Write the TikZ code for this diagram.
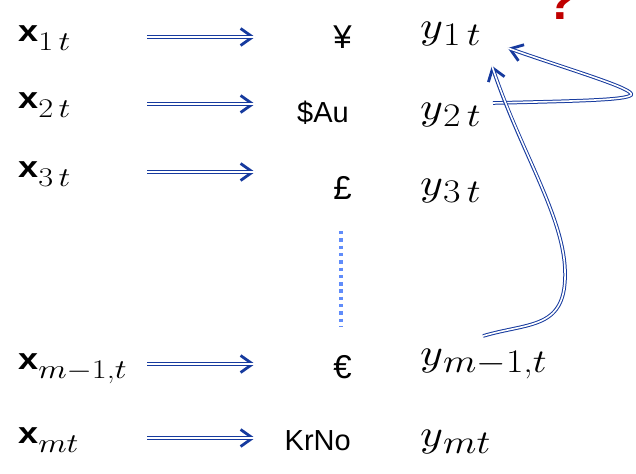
\documentclass[tikz,border=0pt]{standalone}
\usepackage{fontspec}
\setsansfont{Liberation Sans}
\usetikzlibrary{arrows.meta}
% math fonts at any size
\DeclareFontShape{OML}{cmm}{m}{it}{<->cmmi10}{}
\DeclareFontShape{OMS}{cmsy}{m}{n}{<->cmsy10}{}

\definecolor{arrblue}{RGB}{22,58,158}
\definecolor{dotblue}{RGB}{96,140,250}
\definecolor{qred}{RGB}{192,0,0}

% subscripts, set large and lowered by hand
\newcommand{\xsub}[1]{\raisebox{-9pt}{\normalfont\fontsize{27}{30}\selectfont #1}}
\newcommand{\ysub}[1]{\raisebox{-7pt}{\normalfont\fontsize{33}{36}\selectfont #1}}

\begin{document}
\begin{tikzpicture}[x=1pt,y=-1pt]
  \tikzset{
    xlab/.style={anchor=base west,inner sep=0pt,xscale=1.2,font=\sffamily\bfseries\fontsize{30}{34}\selectfont},
    ylab/.style={anchor=base west,inner sep=0pt,xscale=1.15,font=\fontsize{38}{42}\selectfont},
    cur/.style={anchor=base east,inner sep=0pt,font=\sffamily\fontsize{29}{32}\selectfont},
    sym/.style={cur,font=\sffamily\fontsize{33}{36}\selectfont},
    dbl/.style={draw=white,line width=1.6pt,shorten >=6pt,
      preaction={draw=arrblue,line width=3.6pt,
        -{Straight Barb[length=12pt,width=17pt,line width=2.8pt]}}},
  }
  \useasboundingbox (0,0) rectangle (636,473);
  % left column
  \node[xlab] (x1)  at (18,42)  {x\xsub{1\,$t$}};
  \node[xlab] (x2)  at (18,109) {x\xsub{2\,$t$}};
  \node[xlab] (x3)  at (18,177) {x\xsub{3\,$t$}};
  \node[xlab] (xm1) at (18,369) {x\xsub{$m{-}$1,$t$}};
  \node[xlab] (xm)  at (18,443) {x\xsub{$mt$}};
  % currencies
  \node[sym] (cyen) at (352,49)  {¥};
  \node[cur] (caud) at (349,123) {\$Au};
  \node[sym] (cgbp) at (352,199) {£};
  \node[sym] (ceur) at (352,378) {€};
  \node[cur] (cnok) at (351,450) {KrNo};
  % right column
  \node[ylab] (y1)  at (420,39)  {$y$\ysub{1\,$t$}};
  \node[ylab] (y2)  at (420,120) {$y$\ysub{2\,$t$}};
  \node[ylab] (y3)  at (420,195) {$y$\ysub{3\,$t$}};
  \node[ylab] (ym1) at (420,365) {$y$\ysub{$m{-}$1,$t$}};
  \node[ylab] (ym)  at (420,446) {$y$\ysub{$mt$}};
  \node[anchor=base west,inner sep=0pt,text=qred,
        font=\sffamily\bfseries\fontsize{52}{56}\selectfont] (qm) at (545,20) {?};
  % row arrows
  \foreach \i/\ry in {1/37,2/104,3/172,m1/364,m/438}{
    \coordinate (s\i) at (147,\ry);
    \coordinate (e\i) at (261,\ry);
    \draw[dbl] (s\i) -- (e\i);
  }
  % vertical dots
  \coordinate (dtop) at (341,231);
  \coordinate (dbot) at (341,327);
  \draw[dotblue,line width=3.4pt,line cap=butt,dash pattern=on 3.4pt off 3.9pt] (dtop) -- (dbot);
  % hand drawn links back to y1
  \coordinate (a0) at (493,103);
  \coordinate (a1) at (502,46);
  \draw[dbl] (a0) .. controls (580,101) and (626,100) .. (631,95)
        .. controls (636,89) and (570,70) .. (a1);
  \coordinate (b0) at (483,336);
  \coordinate (b1) at (490,60);
  \draw[dbl] (b0) .. controls (530,322) and (567,330) .. (565,270)
        .. controls (563,215) and (520,150) .. (b1);
\end{tikzpicture}
\end{document}
